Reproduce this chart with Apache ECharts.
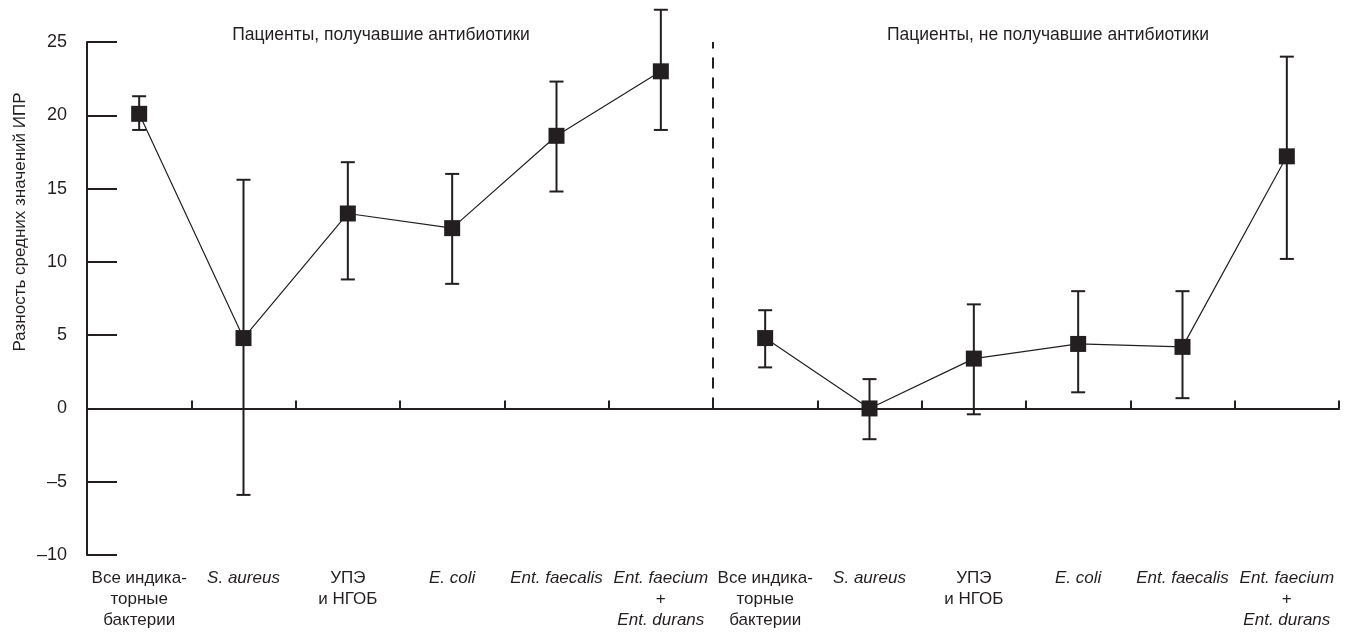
<!DOCTYPE html>
<html>
<head>
  <meta charset="utf-8">
  <title>Разность средних значений ИПР</title>
  <script src="https://cdn.jsdelivr.net/npm/echarts@6/dist/echarts.min.js"></script>
  <style>html, body { margin: 0; padding: 0; background: #fff; }</style>
</head>
<body>
  <div id="main" style="width: 1346px; height: 639px;"></div>

  <script>
    const groupLabels = ['Все индика-\nторные\nбактерии', 'S. aureus', 'УПЭ\nи НГОБ', 'E. coli', 'Ent. faecalis', 'Ent. faecium\n+\nEnt. durans'];
    const groupTitles = ['Пациенты, получавшие антибиотики', 'Пациенты, не получавшие антибиотики'];
    const yTicks = [-10, -5, 0, 5, 10, 15, 20, 25];
    const yName = 'Разность средних значений ИПР';

    // пациенты, получавшие антибиотики
    const abMean = [20.1, 4.8, 13.3, 12.3, 18.6, 23.0];
    const abLow  = [19.0, -5.9, 8.8, 8.5, 14.8, 19.0];
    const abHigh = [21.3, 15.6, 16.8, 16.0, 22.3, 27.2];

    // пациенты, не получавшие антибиотики
    const noAbMean = [4.8, 0.0, 3.4, 4.4, 4.2, 17.2];
    const noAbLow  = [2.8, -2.1, -0.4, 1.1, 0.7, 10.2];
    const noAbHigh = [6.7, 2.0, 7.1, 8.0, 8.0, 24.0];

    const ink = '#231f20';
    const font = '"Liberation Sans", Arial, Helvetica, sans-serif';
    const n = groupLabels.length;
    const categories = groupLabels.concat(groupLabels);

    const abPoints = abMean.map((v, i) => [i, v]);
    const noAbPoints = noAbMean.map((v, i) => [i + n, v]);
    const errorBars = abMean.map((v, i) => [i, abLow[i], abHigh[i]])
      .concat(noAbMean.map((v, i) => [i + n, noAbLow[i], noAbHigh[i]]));

    function renderErrorBar(params, api) {
      const x = api.value(0);
      const lo = api.coord([x, api.value(1)]);
      const hi = api.coord([x, api.value(2)]);
      const cap = 7;
      const style = { stroke: ink, lineWidth: 2 };
      return {
        type: 'group',
        children: [
          { type: 'line', shape: { x1: lo[0], y1: lo[1], x2: hi[0], y2: hi[1] }, style },
          { type: 'line', shape: { x1: lo[0] - cap, y1: lo[1], x2: lo[0] + cap, y2: lo[1] }, style },
          { type: 'line', shape: { x1: hi[0] - cap, y1: hi[1], x2: hi[0] + cap, y2: hi[1] }, style }
        ]
      };
    }

    // пунктир между группами
    function renderDivider(params, api) {
      const a = api.coord([n - 1, 0]);
      const b = api.coord([n, 0]);
      const top = api.coord([n, yTicks[yTicks.length - 1]]);
      const x = (a[0] + b[0]) / 2;
      return {
        type: 'line',
        shape: { x1: x, y1: a[1], x2: x, y2: top[1] },
        style: { stroke: ink, lineWidth: 2, lineDash: [11, 9] }
      };
    }

    function labelFormatter(label) {
      return label.split('\n').map(line =>
        /^[A-Za-z]/.test(line) ? '{i|' + line + '}' : '{n|' + line + '}'
      ).join('\n');
    }

    const chart = echarts.init(document.getElementById('main'));
    const option = {
      animation: false,
      backgroundColor: '#fff',
      textStyle: { fontFamily: font, color: ink },
      grid: { left: 87, right: 7, top: 42, bottom: 84, containLabel: false, outerBoundsMode: 'none' },
      graphic: [
        { type: 'text', x: 381, y: 35, style: { text: groupTitles[0], fill: ink, font: '17.5px ' + font, align: 'center', verticalAlign: 'middle' } },
        { type: 'text', x: 1048, y: 35, style: { text: groupTitles[1], fill: ink, font: '17.5px ' + font, align: 'center', verticalAlign: 'middle' } },
        { type: 'text', x: 20, y: 222, rotation: Math.PI / 2, style: { text: yName, fill: ink, font: '17px ' + font, align: 'center', verticalAlign: 'middle' } }
      ],
      xAxis: [
        {
          type: 'category',
          data: categories,
          position: 'bottom',
          axisLine: { show: false, onZero: false },
          axisTick: { show: false },
          axisLabel: {
            interval: 0,
            margin: 13,
            color: ink,
            fontSize: 17,
            lineHeight: 21,
            formatter: labelFormatter,
            rich: {
              n: { fontSize: 17, lineHeight: 21, color: ink, fontFamily: font },
              i: { fontSize: 17, lineHeight: 21, color: ink, fontFamily: font, fontStyle: 'italic' }
            }
          },
          splitLine: { show: false }
        },
        {
          type: 'category',
          data: categories,
          position: 'top',
          axisLine: { show: true, onZero: true, lineStyle: { color: ink, width: 2 } },
          axisTick: { show: true, inside: false, length: 8, lineStyle: { color: ink, width: 2 } },
          axisLabel: { show: false },
          splitLine: { show: false }
        }
      ],
      yAxis: {
        type: 'value',
        min: yTicks[0],
        max: yTicks[yTicks.length - 1],
        interval: yTicks[1] - yTicks[0],
        axisLine: { show: true, onZero: false, lineStyle: { color: ink, width: 2 } },
        axisTick: { show: true, inside: true, length: 30, lineStyle: { color: ink, width: 2 } },
        axisLabel: { margin: 20, fontSize: 18, color: ink, formatter: v => String(v).replace('-', '–') },
        splitLine: { show: false }
      },
      series: [
        {
          type: 'custom',
          renderItem: renderDivider,
          data: [[0]],
          clip: false,
          silent: true,
          z: 1
        },
        {
          type: 'custom',
          renderItem: renderErrorBar,
          data: errorBars,
          encode: { x: 0, y: [1, 2] },
          clip: false,
          z: 2
        },
        {
          type: 'line',
          data: abPoints,
          symbol: 'rect',
          symbolSize: 16,
          itemStyle: { color: ink },
          lineStyle: { color: ink, width: 1.2 },
          z: 3
        },
        {
          type: 'line',
          data: noAbPoints,
          symbol: 'rect',
          symbolSize: 16,
          itemStyle: { color: ink },
          lineStyle: { color: ink, width: 1.2 },
          z: 3
        }
      ]
    };
    chart.setOption(option);
  </script>
</body>
</html>
